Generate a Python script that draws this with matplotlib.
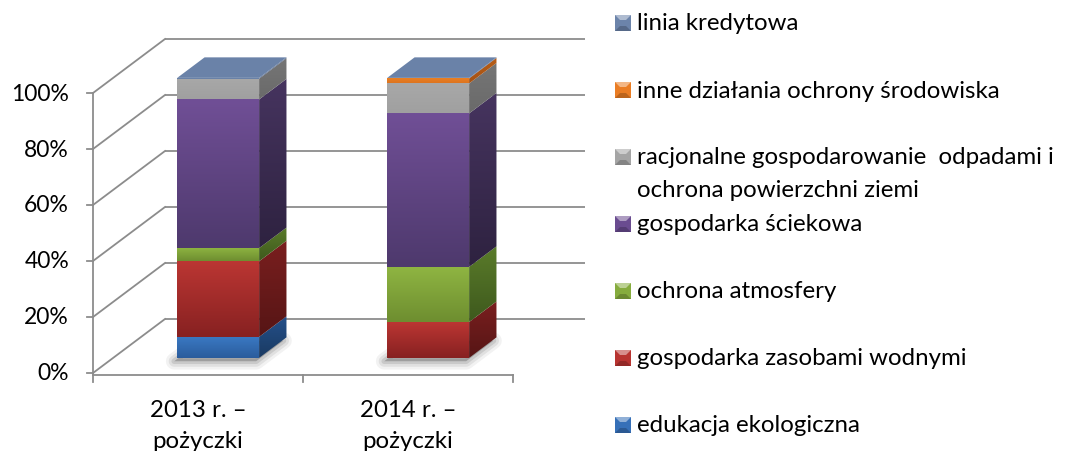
import numpy as np
import matplotlib
matplotlib.use("Agg")
import matplotlib.pyplot as plt
from matplotlib.patches import Polygon, Rectangle
from matplotlib.colors import LinearSegmentedColormap

plt.rcParams["font.family"] = ["Lato", "DejaVu Sans"]

# ── Data (shares of loans, %) ────────────────────────────────────────────────
categories = ["2013 r. –\npożyczki", "2014 r. –\npożyczki"]
series_names = [
    "edukacja ekologiczna",
    "gospodarka zasobami wodnymi",
    "ochrona atmosfery",
    "gospodarka ściekowa",
    "racjonalne gospodarowanie  odpadami i\nochrona powierzchni ziemi",
    "inne działania ochrony środowiska",
    "linia kredytowa",
]
edukacja = [7.5, 0.0]
zasoby_wodne = [27.0, 12.8]
atmosfera = [4.7, 19.7]
scieki = [53.1, 54.8]
odpady = [7.4, 10.7]
inne = [0.0, 1.8]
linia = [0.3, 0.2]
y_ticks = [0, 20, 40, 60, 80, 100]

series_values = [edukacja, zasoby_wodne, atmosfera, scieki, odpady, inne, linia]

# (front top, front bottom, side top, side bottom, legend base)
PALETTE = [
    ("#3a78c2", "#2a5c9c", "#24508a", "#1a3a62", "#3670b8"),
    ("#bb3633", "#872121", "#7a1f1f", "#561515", "#b83431"),
    ("#8fb542", "#6e8e30", "#5a7b2a", "#3e591d", "#86ac3e"),
    ("#704f96", "#4e396d", "#46345f", "#2e2240", "#6a4c90"),
    ("#a8a8a8", "#a0a0a0", "#767676", "#6a6a6a", "#a5a5a5"),
    ("#ec8224", "#dd7420", "#b85e18", "#a55214", "#ea7d24"),
    ("#6c84aa", "#6880a6", "#596d90", "#55698a", "#6c84aa"),
]
TOP_FACE = "#6a82a8"
GRID = "#8c8c8c"
TXT = "#000000"
FS = 17.3

# ── Geometry of the oblique 3D projection ────────────────────────────────────
W, H = 1071, 452
PX_X = 210.0        # pixels per category on the front plane
PX_Y = 2.8          # pixels per percent
X0_PX, Y0_PX = 93, 374
DX = 72 / PX_X      # full wall depth, in data units
DY = 54 / PX_Y
D0, D1 = 0.28, 0.66    # bar front/back depth
BAR_W = 0.39


def proj(x, v, d):
    return x + d * DX, v + d * DY


fig = plt.figure(figsize=(W / 100, H / 100), dpi=100)
ax = fig.add_axes([0, 0, 1, 1])
ax.axis("off")


def grad_face(verts, c_top, c_bot, z):
    poly = Polygon(verts, closed=True, facecolor="none", edgecolor="none", zorder=z)
    ax.add_patch(poly)
    xs, ys = zip(*verts)
    cmap = LinearSegmentedColormap.from_list("g", [c_bot, c_top])
    grad = np.linspace(0, 1, 64).reshape(-1, 1)
    im = ax.imshow(grad, cmap=cmap, origin="lower", aspect="auto",
                   interpolation="bilinear", zorder=z,
                   extent=[min(xs), max(xs), min(ys), max(ys)])
    im.set_clip_path(poly)


# walls: back gridlines and side diagonals
n_cat = len(categories)
for v in y_ticks:
    (xa, ya), (xb, yb) = proj(0, v, 1), proj(n_cat, v, 1)
    ax.plot([xa, xb], [ya, yb], color=GRID, lw=1.3, zorder=1, solid_capstyle="butt")
    (xa, ya), (xb, yb) = proj(0, v, 0), proj(0, v, 1)
    ax.plot([xa, xb], [ya, yb], color=GRID, lw=1.3, zorder=1)
    ax.plot([0, -6 / PX_X], [v, v], color=GRID, lw=1.3, zorder=1)
    ax.text(-24 / PX_X, v, f"{v}%", ha="right", va="center", fontsize=16.5, color=TXT)

ax.plot([0, 0], [0, 100], color=GRID, lw=1.3, zorder=1)
ax.plot([0, n_cat], [-0.7, -0.7], color=GRID, lw=1.3, zorder=1)
for i in range(n_cat + 1):
    ax.plot([i, i], [-0.7, -3.3], color=GRID, lw=1.3, zorder=1)

for i, lab in enumerate(categories):
    ax.text(i + 0.5, -18.7, lab, ha="center", va="center", fontsize=FS,
            linespacing=1.6, color=TXT)

# bars
for i in range(n_cat):
    x0 = i + 0.5 - BAR_W / 2
    x1 = i + 0.5 + BAR_W / 2

    # soft shadow on the floor
    foot = [proj(x0, 0, D0), proj(x1, 0, D0), proj(x1, 0, D1), proj(x0, 0, D1)]
    foot = [(x - 3 / PX_X, y - 1.2) for x, y in foot]
    for lw, a in [(12, 0.05), (8, 0.07), (4, 0.1)]:
        ax.add_patch(Polygon(foot, closed=True, facecolor=(0, 0, 0, a),
                             edgecolor=(0, 0, 0, a), lw=lw, joinstyle="round", zorder=2))

    base = 0.0
    for vals, (ft, fb, st, sb, _) in zip(series_values, PALETTE):
        h = vals[i]
        if h <= 0:
            continue
        top = base + h
        front = [proj(x0, base, D0), proj(x1, base, D0), proj(x1, top, D0), proj(x0, top, D0)]
        side = [proj(x1, base, D0), proj(x1, base, D1), proj(x1, top, D1), proj(x1, top, D0)]
        grad_face(front, ft, fb, 3)
        grad_face(side, st, sb, 3)
        base = top

    lid = [proj(x0, base, D0), proj(x1, base, D0), proj(x1, base, D1), proj(x0, base, D1)]
    ax.add_patch(Polygon(lid, closed=True, facecolor=TOP_FACE, edgecolor="none", zorder=4))

ax.set_xlim(-X0_PX / PX_X, (W - X0_PX) / PX_X)
ax.set_ylim(-(H - Y0_PX) / PX_Y, Y0_PX / PX_Y)

# ── Legend (pixel coordinates) ───────────────────────────────────────────────
lax = fig.add_axes([0, 0, 1, 1])
lax.set_xlim(0, W)
lax.set_ylim(H, 0)
lax.axis("off")

order = list(range(len(series_names)))[::-1]
for row, k in enumerate(order):
    y = 24 + 67 * row
    c = PALETTE[k][4]
    lax.add_patch(Rectangle((615, y - 8), 16, 16, facecolor=c, edgecolor="none"))
    lax.add_patch(Polygon([(615, y - 8), (631, y - 8), (626, y - 3), (620, y - 3)],
                          closed=True, facecolor="white", alpha=0.45, edgecolor="none"))
    lax.add_patch(Polygon([(615, y + 8), (631, y + 8), (626, y + 3), (620, y + 3)],
                          closed=True, facecolor="black", alpha=0.2, edgecolor="none"))
    for j, line in enumerate(series_names[k].split("\n")):
        lax.text(637, y + 33 * j, line, ha="left", va="center", fontsize=FS, color=TXT)

fig.savefig("out.png", dpi=100)
